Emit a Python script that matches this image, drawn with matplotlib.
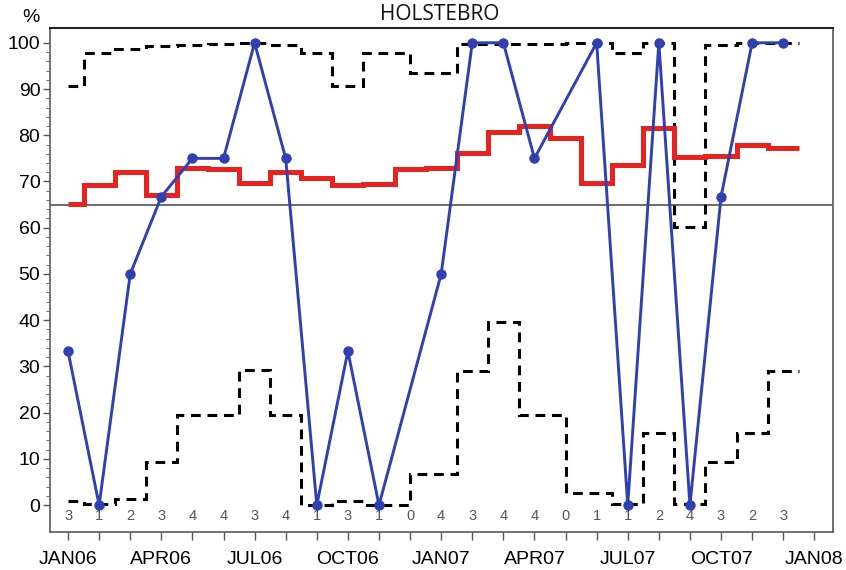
import numpy as np
import matplotlib.pyplot as plt

plt.rcParams['font.family'] = ['Liberation Sans', 'DejaVu Sans']

# monthly data JAN06 .. DEC07
counts = [3, 1, 2, 3, 4, 4, 3, 4, 1, 3, 1, 0, 4, 3, 4, 4, 0, 1, 1, 2, 4, 3, 2, 3]
pct = [33.3, 0, 50, 66.7, 75, 75, 100, 75, 0, 33.3, 0, None,
       50, 100, 100, 75, None, 100, 0, 100, 0, 66.7, 100, 100]
mean_pct = [65.1, 69.3, 72.0, 67.0, 73.0, 72.6, 69.7, 72.0, 70.7, 69.3, 69.5, 72.6,
            72.9, 76.1, 80.6, 82.1, 79.4, 69.6, 73.6, 81.6, 75.3, 75.5, 77.9, 77.2]
ucl = [90.7, 97.7, 98.7, 99.3, 99.6, 99.8, 100, 99.6, 97.8, 90.7, 97.7, None,
       93.5, 99.8, 99.8, 99.8, None, 100, 97.8, 100, 60.1, 99.5, 99.9, 100]
lcl = [1.0, 0.2, 1.4, 9.4, 19.4, 19.4, 29.2, 19.4, 0, 0.8, 0, None,
       6.7, 29.1, 39.6, 19.4, None, 2.6, 0.3, 15.7, 0.3, 9.4, 15.6, 29.1]
target = 65
tick_labels = ['JAN06', 'APR06', 'JUL06', 'OCT06', 'JAN07',
               'APR07', 'JUL07', 'OCT07', 'JAN08']


def present(vals):
    x = [i for i, v in enumerate(vals) if v is not None]
    y = [vals[i] for i in x]
    return x, y


def step_edges(x):
    # steps change half way between months that have data
    mids = [(a + b) / 2 for a, b in zip(x[:-1], x[1:])]
    return [x[0]] + mids + [x[-1] + 0.5]


fig = plt.figure(figsize=(8.46, 5.70), dpi=100)
ax = fig.add_axes([0.0591, 0.0667, 0.9255, 0.8842])

ax.axhline(target, color='#444444', lw=1.1, zorder=1)

dash = (0, (3.2, 2.2))
for lim in (ucl, lcl):
    x, y = present(lim)
    ax.stairs(y, step_edges(x), baseline=None, color='black', lw=2.2,
              linestyle=dash, zorder=2)

x, y = present(mean_pct)
ax.stairs(y, step_edges(x), baseline=None, color='#e8231f', lw=3.6, zorder=3)

x, y = present(pct)
ax.plot(x, y, color='#3040b0', lw=2.1, marker='o', ms=6.5, zorder=4)

for i, c in enumerate(counts):
    ax.text(i, -2.4, str(c), ha='center', va='center', fontsize=10.5, color='#555555')

ax.set_xlim(-0.58, 24.6)
ax.set_ylim(-5.8, 103.2)
ax.set_xticks(np.arange(0, 25, 3))
ax.set_xticklabels(tick_labels, fontsize=14)
ax.set_xticks(np.arange(0, 25), minor=True)
ax.set_yticks(np.arange(0, 101, 10))
ax.set_yticks(np.arange(0, 101, 2), minor=True)
ax.tick_params(axis='y', labelsize=14, length=5, width=1, color='#555555', pad=2)
ax.tick_params(axis='y', which='minor', length=3, color='#555555')
ax.tick_params(axis='x', which='both', length=6, width=1, color='#555555', pad=8)

for s in ['left', 'bottom', 'right']:
    ax.spines[s].set_color('#666666')
    ax.spines[s].set_linewidth(1.3)
ax.spines['top'].set_color('#222222')
ax.spines['top'].set_linewidth(1.5)

fig.text(0.52, 0.974, 'HOLSTEBRO', ha='center', va='center', fontsize=15,
         family=['Open Sans', 'DejaVu Sans'], color='#111111')
fig.text(0.037, 0.97, '%', ha='center', va='center', fontsize=14)

fig.savefig('out.png', dpi=100)
